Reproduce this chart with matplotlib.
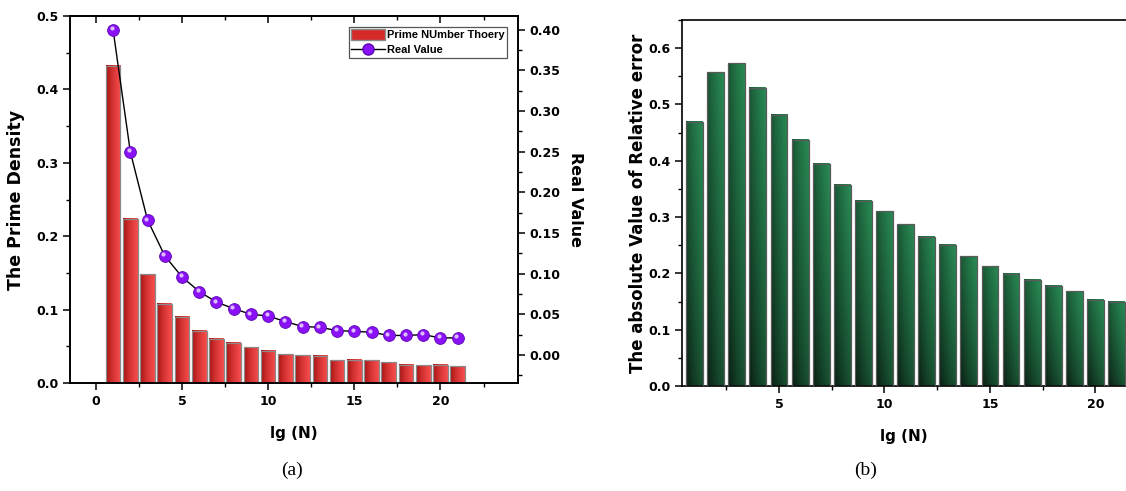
import numpy as np
import matplotlib
matplotlib.use("Agg")
import matplotlib.pyplot as plt
from matplotlib.patches import Patch
from matplotlib.lines import Line2D
from matplotlib.transforms import offset_copy
from matplotlib.ticker import MultipleLocator, FormatStrFormatter

# data
lg_n = np.arange(1, 22)
prime_theory = [0.432, 0.224, 0.148, 0.108, 0.090, 0.071, 0.060, 0.055, 0.049, 0.044, 0.039,
                0.038, 0.037, 0.031, 0.032, 0.031, 0.028, 0.025, 0.024, 0.025, 0.023]
real_value = [0.400, 0.250, 0.166, 0.122, 0.096, 0.078, 0.065, 0.057, 0.050, 0.048, 0.041,
              0.035, 0.034, 0.030, 0.029, 0.028, 0.024, 0.024, 0.025, 0.021, 0.021]
rel_error = [0.469, 0.557, 0.573, 0.530, 0.482, 0.437, 0.395, 0.357, 0.329, 0.310, 0.287,
             0.265, 0.251, 0.230, 0.213, 0.199, 0.189, 0.178, 0.168, 0.153, 0.150]

plt.rcParams["font.family"] = ["DejaVu Sans"]
plt.rcParams["font.weight"] = "bold"
plt.rcParams["axes.linewidth"] = 1.2

fig = plt.figure(figsize=(11.26, 4.91), dpi=100)


def red_gradient():
    t = np.linspace(0, 1, 40) ** 0.6
    dark = np.array([0.60, 0.03, 0.03])
    light = np.array([0.97, 0.30, 0.30])
    row = dark + (light - dark) * t[:, None]
    return np.repeat(row[None, :, :], 2, axis=0)


def green_gradient():
    tx = np.linspace(0, 1, 30)[None, :]
    ty = np.linspace(0, 1, 60)[:, None]
    s = np.clip(0.5 * tx ** 0.7 + 0.5 * ty ** 0.8, 0, 1)
    dark = np.array([0.03, 0.09, 0.055])
    light = np.array([0.16, 0.54, 0.33])
    return dark + (light - dark) * s[:, :, None]


def gradient_bars(ax, x, heights, width, grad, edge):
    for xi, h in zip(x, heights):
        ax.imshow(grad, extent=(xi - width / 2, xi + width / 2, 0, h), origin="lower",
                  aspect="auto", interpolation="bilinear", zorder=2)
    ax.bar(x, heights, width, facecolor="none", edgecolor=edge, linewidth=0.9, zorder=3)


def style_ticks(ax, axis):
    ax.tick_params(axis=axis, which="major", direction="out", length=5, width=1.1, labelsize=9)
    ax.tick_params(axis=axis, which="minor", direction="out", length=3, width=1.0)


# ---------------- panel (a) ----------------
ax = fig.add_axes([70 / 1126, 108 / 491, 448 / 1126, 367 / 491])
gradient_bars(ax, lg_n, prime_theory, 0.85, red_gradient(), "#8a8a8a")
ax.set_xlim(-1.5, 24.5)
ax.set_ylim(0, 0.5)
ax.set_aspect("auto")
ax.xaxis.set_major_locator(MultipleLocator(5))
ax.xaxis.set_minor_locator(MultipleLocator(2.5))
ax.yaxis.set_major_locator(MultipleLocator(0.1))
ax.yaxis.set_minor_locator(MultipleLocator(0.05))
style_ticks(ax, "both")
ax.set_xlabel("lg (N)", fontsize=11, fontweight="bold", labelpad=13)
ax.set_ylabel("The Prime Density", fontsize=12.5, fontweight="bold", labelpad=8)

top = ax.secondary_xaxis("top")
top.xaxis.set_major_locator(MultipleLocator(5))
top.xaxis.set_minor_locator(MultipleLocator(2.5))
top.tick_params(which="major", direction="in", length=5, width=1.1, labeltop=False)
top.tick_params(which="minor", direction="in", length=3, width=1.0)

ax2 = ax.twinx()
ax2.plot(lg_n, real_value, color="black", linewidth=1.0, zorder=4)
ax2.plot(lg_n, real_value, linestyle="none", marker="o", markersize=8.5,
         markerfacecolor="#8a10f5", markeredgecolor="#5a08b0", markeredgewidth=0.6, zorder=5)
hl = offset_copy(ax2.transData, fig=fig, x=-1.5, y=1.5, units="dots")
ax2.plot(lg_n, real_value, linestyle="none", marker="o", markersize=3,
         markerfacecolor="#dcbcff", markeredgewidth=0, transform=hl, zorder=6)
ax2.set_ylim(-0.0345, 0.417)
ax2.yaxis.set_major_locator(MultipleLocator(0.05))
ax2.yaxis.set_minor_locator(MultipleLocator(0.025))
ax2.yaxis.set_major_formatter(FormatStrFormatter("%.2f"))
style_ticks(ax2, "y")
ax2.set_ylabel("Real Value", fontsize=11.5, fontweight="bold", rotation=270, labelpad=16)

handles = [Patch(facecolor="#d62a2a", edgecolor="#8a8a8a"),
           Line2D([], [], color="black", linewidth=1.0, marker="o", markersize=8,
                  markerfacecolor="#8a10f5", markeredgecolor="#5a08b0")]
leg = ax2.legend(handles, ["Prime NUmber Thoery", "Real Value"], loc="upper right",
                 prop={"family": "Liberation Sans", "size": 8, "weight": "bold"},
                 fancybox=False, edgecolor="#555555", framealpha=1, borderpad=0.2,
                 labelspacing=0.35, handlelength=3.0, handleheight=1.1, handletextpad=0.2,
                 numpoints=1, borderaxespad=1.0)
leg.get_frame().set_linewidth(0.9)

fig.text(292 / 1126, 1 - 470 / 491, "(a)", family="Liberation Serif", fontweight="normal",
         fontsize=14, ha="center", va="center")

# ---------------- panel (b) ----------------
bx = fig.add_axes([682 / 1126, 105 / 491, 444 / 1126, 366 / 491])
gradient_bars(bx, lg_n, rel_error, 0.8, green_gradient(), "#5a5a5a")
bx.set_xlim(0.4, 21.45)
bx.set_ylim(0, 0.65)
bx.set_aspect("auto")
bx.spines["right"].set_visible(False)
bx.xaxis.set_major_locator(MultipleLocator(5))
bx.xaxis.set_minor_locator(MultipleLocator(2.5))
bx.yaxis.set_major_locator(MultipleLocator(0.1))
bx.yaxis.set_minor_locator(MultipleLocator(0.05))
style_ticks(bx, "both")
bx.set_xlabel("lg (N)", fontsize=11, fontweight="bold", labelpad=13)
bx.set_ylabel("The absolute Value of Relative error", fontsize=12, fontweight="bold", labelpad=1)

fig.text(866 / 1126, 1 - 470 / 491, "(b)", family="Liberation Serif", fontweight="normal",
         fontsize=14, ha="center", va="center")

fig.savefig("out.png", dpi=100)
